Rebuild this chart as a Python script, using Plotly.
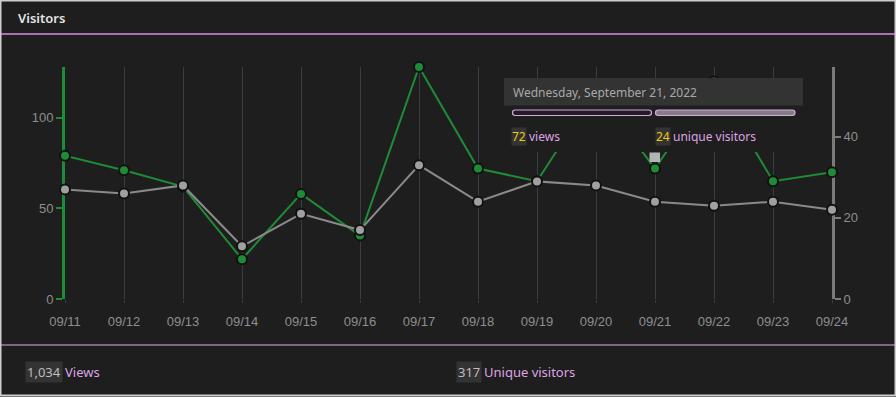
import plotly.graph_objects as go

# ---------------- data ----------------
dates = ["09/11", "09/12", "09/13", "09/14", "09/15", "09/16", "09/17",
         "09/18", "09/19", "09/20", "09/21", "09/22", "09/23", "09/24"]
views = [79, 71, 62, 22, 58, 35, 128, 72, 65, 115, 72, 120, 65, 70]
unique_visitors = [27, 26, 28, 13, 21, 17, 33, 24, 29, 28, 24, 23, 24, 22]
total_unique_visitors = 317
tooltip_index = 10
tooltip_date = "Wednesday, September 21, 2022"
left_ticks = [0, 50, 100]
right_ticks = [0, 20, 40]
right_axis_max = 57.2

# ---------------- style ----------------
BG = "#1e1e1e"
GREEN = "#1f8b37"
GRAY_LINE = "#8a8a8a"
GRAY_MARK = "#a0a0a0"
PINK = "#dca4e4"
PINK_LINE = "#d88fe0"
YELLOW = "#f2c811"
TICK_COL = "#8e8e8e"
GRID = "#383d47"
W, H = 896, 397
L, R, T, B = 65, 832, 67, 299  # plot area in px


def px(x):
    return (x - L) / (R - L)


def py(y):
    return (B - y) / (B - T)


def rrect(x0, y0, x1, y1, r):
    pts = [
        ("M", x0 + r, y0), ("L", x1 - r, y0), ("Q", x1, y0, x1, y0 + r),
        ("L", x1, y1 - r), ("Q", x1, y1, x1 - r, y1), ("L", x0 + r, y1),
        ("Q", x0, y1, x0, y1 - r), ("L", x0, y0 + r), ("Q", x0, y0, x0 + r, y0),
    ]
    s = ""
    for p in pts:
        if p[0] == "Q":
            s += f"Q{px(p[1])},{py(p[2])} {px(p[3])},{py(p[4])} "
        else:
            s += f"{p[0]}{px(p[1])},{py(p[2])} "
    return s + "Z"


fig = go.Figure()
fig.add_trace(go.Scatter(
    x=dates, y=views, mode="lines+markers", yaxis="y",
    line=dict(color=GREEN, width=2),
    marker=dict(size=10, color=GREEN, line=dict(color="#111111", width=2)),
    cliponaxis=False, name="views"))
fig.add_trace(go.Scatter(
    x=dates, y=unique_visitors, mode="lines+markers", yaxis="y2",
    line=dict(color=GRAY_LINE, width=2),
    marker=dict(size=10, color=GRAY_MARK, line=dict(color="#111111", width=2)),
    cliponaxis=False, name="unique visitors"))

shapes = []
# outer border
shapes.append(dict(type="rect", xref="paper", yref="paper", x0=px(0.5), x1=px(W - 0.5),
                   y0=py(0.5), y1=py(H - 1.5), line=dict(color="#cfcfcf", width=2),
                   fillcolor="rgba(0,0,0,0)", layer="above"))
# header separator
shapes.append(dict(type="line", xref="paper", yref="paper", x0=px(1), x1=px(W - 1),
                   y0=py(34), y1=py(34), line=dict(color=PINK_LINE, width=1.5)))
# footer separator
shapes.append(dict(type="line", xref="paper", yref="paper", x0=px(1), x1=px(W - 1),
                   y0=py(345), y1=py(345), line=dict(color="#d2b4d8", width=1)))
# tooltip body (occludes lines)
shapes.append(dict(type="rect", xref="paper", yref="paper", x0=px(504), x1=px(803),
                   y0=py(78), y1=py(152), fillcolor=BG, line=dict(width=0), layer="above"))
# tooltip header
shapes.append(dict(type="rect", xref="paper", yref="paper", x0=px(504), x1=px(803),
                   y0=py(78), y1=py(105.5), fillcolor="#333333", line=dict(width=0), layer="above"))
# proportion bars
shapes.append(dict(type="path", xref="paper", yref="paper", path=rrect(512.5, 110, 651.5, 115.5, 2.7),
                   fillcolor=BG, line=dict(color=PINK, width=1.2), layer="above"))
shapes.append(dict(type="path", xref="paper", yref="paper", path=rrect(655.5, 110, 795, 115.5, 2.7),
                   fillcolor="#808080", line=dict(color=PINK, width=1.2), layer="above"))
# hover indicator square
shapes.append(dict(type="rect", xref="paper", yref="paper", x0=px(649.5), x1=px(660),
                   y0=py(152.5), y1=py(162), fillcolor="#b4b4b4", line=dict(width=0), layer="above"))

UI_FONT = "Noto Sans"
ann = []
ann.append(dict(text="Visitors", x=px(16), y=py(18), xref="paper", yref="paper",
                xanchor="left", yanchor="middle", showarrow=False,
                font=dict(family=UI_FONT, size=13, color="#e4e4e4", weight=600)))
ann.append(dict(text=tooltip_date, x=px(511), y=py(92), xref="paper", yref="paper",
                xanchor="left", yanchor="middle", showarrow=False,
                font=dict(family=UI_FONT, size=12, color="#a8a8a8")))
ann.append(dict(text=str(views[tooltip_index]), x=px(511), y=py(136), xref="paper", yref="paper",
                xanchor="left", yanchor="middle", showarrow=False, bgcolor="#333333", borderpad=0,
                font=dict(family=UI_FONT, size=12, color=YELLOW)))
ann.append(dict(text="views", x=px(527), y=py(136), xref="paper", yref="paper",
                xanchor="left", yanchor="middle", showarrow=False,
                font=dict(family=UI_FONT, size=12, color=PINK)))
ann.append(dict(text=str(unique_visitors[tooltip_index]), x=px(655), y=py(136), xref="paper", yref="paper",
                xanchor="left", yanchor="middle", showarrow=False, bgcolor="#333333", borderpad=0,
                font=dict(family=UI_FONT, size=12, color=YELLOW)))
ann.append(dict(text="unique visitors", x=px(671), y=py(136), xref="paper", yref="paper",
                xanchor="left", yanchor="middle", showarrow=False,
                font=dict(family=UI_FONT, size=12, color=PINK)))
ann.append(dict(text=f"{sum(views):,}", x=px(24.5), y=py(371.5), xref="paper", yref="paper",
                xanchor="left", yanchor="middle", showarrow=False, bgcolor="#333333", borderpad=1,
                font=dict(family=UI_FONT, size=13, color="#bdbdbd")))
ann.append(dict(text="Views", x=px(63), y=py(371.5), xref="paper", yref="paper",
                xanchor="left", yanchor="middle", showarrow=False,
                font=dict(family=UI_FONT, size=13, color=PINK)))
ann.append(dict(text=str(total_unique_visitors), x=px(455.5), y=py(371.5), xref="paper", yref="paper",
                xanchor="left", yanchor="middle", showarrow=False, bgcolor="#333333", borderpad=1,
                font=dict(family=UI_FONT, size=13, color="#bdbdbd")))
ann.append(dict(text="Unique visitors", x=px(482), y=py(371.5), xref="paper", yref="paper",
                xanchor="left", yanchor="middle", showarrow=False,
                font=dict(family=UI_FONT, size=13, color=PINK)))

tick_font = dict(family="Liberation Sans, Arial, sans-serif", size=13, color=TICK_COL)
fig.update_layout(
    width=W, height=H,
    margin=dict(l=L, r=W - R, t=T, b=H - B, pad=0),
    paper_bgcolor=BG, plot_bgcolor=BG,
    showlegend=False, hovermode=False,
    shapes=shapes, annotations=ann,
    xaxis=dict(type="category", range=[0, len(dates) - 1], showgrid=True, gridcolor=GRID,
               gridwidth=1, showline=False, zeroline=False, ticks="outside", ticklen=3,
               tickcolor=GRID, ticklabelstandoff=7, tickfont=tick_font, layer="below traces"),
    yaxis=dict(range=[0, max(views)], tickvals=left_ticks, showgrid=False, zeroline=False,
               showline=True, linecolor=GREEN, linewidth=3, ticks="outside", ticklen=6,
               tickwidth=2, tickcolor=GREEN, tickfont=tick_font, layer="below traces"),
    yaxis2=dict(range=[0, right_axis_max], tickvals=right_ticks, overlaying="y", side="right",
                showgrid=False, zeroline=False, showline=True, linecolor="#7a7a7a", linewidth=3,
                ticks="outside", ticklen=6, tickwidth=2, tickcolor="#7a7a7a", tickfont=tick_font,
                layer="below traces"),
)

fig.write_html("out.html", config={"displayModeBar": False},
               post_script="document.body.style.margin='0';document.body.style.padding='0';"
                           "document.body.style.overflow='hidden';")
